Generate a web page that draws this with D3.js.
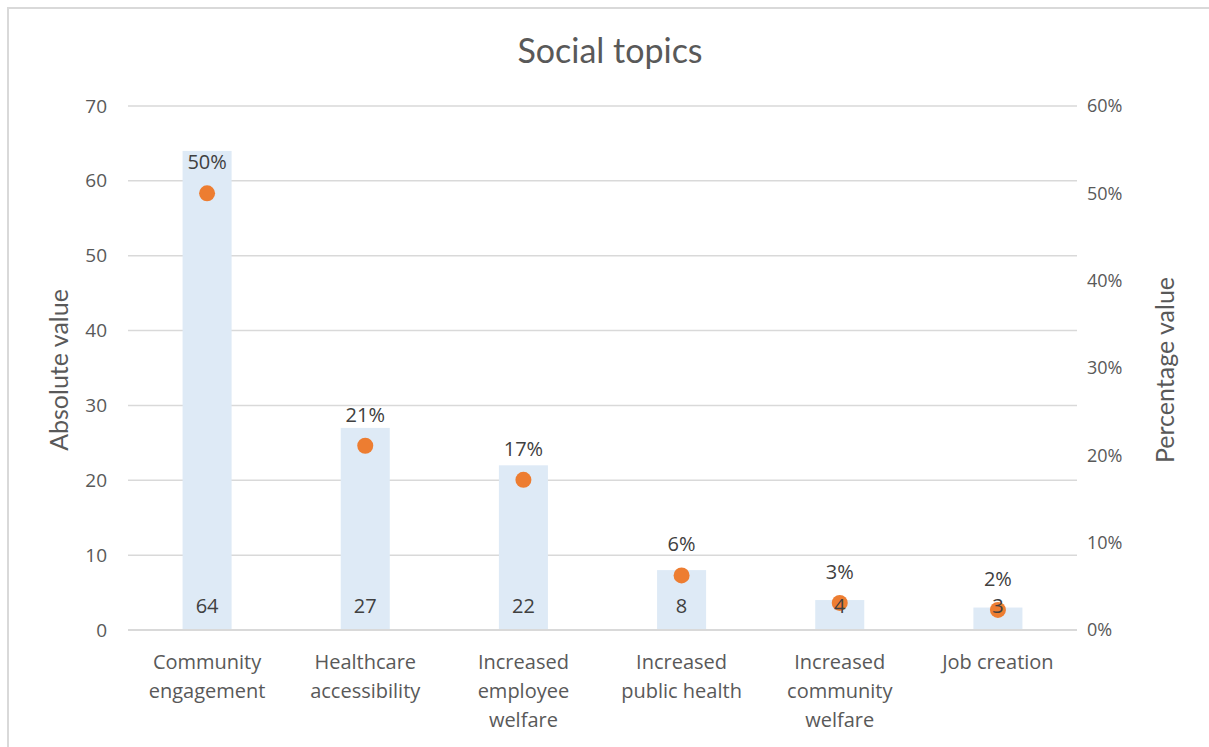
<!DOCTYPE html>
<html>
<head>
<meta charset="utf-8">
<script src="https://cdn.jsdelivr.net/npm/d3@7"></script>
<style>
  html, body { margin: 0; padding: 0; background: #fff; }
  svg { display: block; }
</style>
</head>
<body>
<svg id="chart" width="1209" height="747"></svg>
<script>
// Social topics: counts per topic (bars) and share of total (dots)
const categories = [
  ["Community", "engagement"],
  ["Healthcare", "accessibility"],
  ["Increased", "employee", "welfare"],
  ["Increased", "public health"],
  ["Increased", "community", "welfare"],
  ["Job creation"]
];
const absoluteValues = [64, 27, 22, 8, 4, 3];
const percentValues = [0.50, 0.211, 0.172, 0.0625, 0.031, 0.023];
const leftTicks = [0, 10, 20, 30, 40, 50, 60, 70];
const rightTicks = [0, 0.1, 0.2, 0.3, 0.4, 0.5, 0.6];

const svg = d3.select("#chart");
const W = 1209, H = 747;
const plot = { left: 128, right: 1077, top: 106, bottom: 630 };
const textColor = "#595959";
const labelColor = "#404040";
const gridColor = "#d9d9d9";
const font = "'Open Sans', 'DejaVu Sans', sans-serif";
const titleFont = "Lato, 'Open Sans', sans-serif";

// frame (top and left edges)
svg.append("path")
  .attr("d", `M8,${H} L8,8 L${W},8`)
  .attr("fill", "none")
  .attr("stroke", gridColor)
  .attr("stroke-width", 2);

const x = d3.scaleBand()
  .domain(d3.range(categories.length))
  .range([plot.left, plot.right])
  .paddingInner(0.69)
  .paddingOuter(0.345);

const yLeft = d3.scaleLinear().domain([0, 70]).range([plot.bottom, plot.top]);
const yRight = d3.scaleLinear().domain([0, 0.6]).range([plot.bottom, plot.top]);

// gridlines
svg.append("g")
  .selectAll("line")
  .data(leftTicks)
  .join("line")
  .attr("x1", plot.left).attr("x2", plot.right)
  .attr("y1", d => yLeft(d)).attr("y2", d => yLeft(d))
  .attr("stroke", gridColor)
  .attr("stroke-width", 1.5);

// left axis
const leftAxis = svg.append("g")
  .attr("transform", `translate(${plot.left},0)`)
  .call(d3.axisLeft(yLeft).tickValues(leftTicks).tickSize(0).tickPadding(21));
leftAxis.select(".domain").remove();
leftAxis.selectAll("text")
  .attr("fill", textColor).style("font-family", font).style("font-size", "19px");

// right axis
const rightAxis = svg.append("g")
  .attr("transform", `translate(${plot.right},0)`)
  .call(d3.axisRight(yRight).tickValues(rightTicks).tickFormat(d3.format(".0%")).tickSize(0).tickPadding(10));
rightAxis.select(".domain").remove();
rightAxis.selectAll("text")
  .attr("fill", textColor).style("font-family", font).style("font-size", "18px");

// bars
svg.append("g")
  .selectAll("rect")
  .data(absoluteValues)
  .join("rect")
  .attr("x", (d, i) => x(i))
  .attr("width", x.bandwidth())
  .attr("y", d => yLeft(d))
  .attr("height", d => yLeft(0) - yLeft(d))
  .attr("fill", "#deeaf6");

// bottom axis line
svg.append("line")
  .attr("x1", plot.left).attr("x2", plot.right)
  .attr("y1", plot.bottom).attr("y2", plot.bottom)
  .attr("stroke", gridColor).attr("stroke-width", 2);

// percentage dots
svg.append("g")
  .selectAll("circle")
  .data(percentValues)
  .join("circle")
  .attr("cx", (d, i) => x(i) + x.bandwidth() / 2)
  .attr("cy", d => yRight(d))
  .attr("r", 8)
  .attr("fill", "#ed7d31");

// bar value labels at the base (drawn over the dots)
svg.append("g")
  .selectAll("text")
  .data(absoluteValues)
  .join("text")
  .attr("x", (d, i) => x(i) + x.bandwidth() / 2)
  .attr("y", yLeft(0) - 17)
  .attr("text-anchor", "middle")
  .attr("fill", labelColor)
  .style("font-family", font).style("font-size", "20px")
  .text(d => d);

// percentage labels above dots
svg.append("g")
  .selectAll("text")
  .data(percentValues)
  .join("text")
  .attr("x", (d, i) => x(i) + x.bandwidth() / 2)
  .attr("y", d => yRight(d) - 24)
  .attr("text-anchor", "middle")
  .attr("fill", labelColor)
  .style("font-family", font).style("font-size", "20px")
  .text(d => d3.format(".0%")(d));

// category labels
const catG = svg.append("g");
categories.forEach((lines, i) => {
  const t = catG.append("text")
    .attr("x", x(i) + x.bandwidth() / 2)
    .attr("y", 669)
    .attr("text-anchor", "middle")
    .attr("fill", textColor)
    .style("font-family", font).style("font-size", "20px");
  lines.forEach((ln, j) => {
    t.append("tspan")
      .attr("x", x(i) + x.bandwidth() / 2)
      .attr("dy", j === 0 ? 0 : 29)
      .text(ln);
  });
});

// title
svg.append("text")
  .attr("x", 610).attr("y", 63)
  .attr("text-anchor", "middle")
  .attr("fill", textColor)
  .style("font-family", titleFont).style("font-size", "34px")
  .text("Social topics");

// axis titles
svg.append("text")
  .attr("transform", `translate(68,370) rotate(-90)`)
  .attr("text-anchor", "middle")
  .attr("fill", textColor)
  .style("font-family", titleFont).style("font-size", "25px")
  .text("Absolute value");

svg.append("text")
  .attr("transform", `translate(1174,370) rotate(-90)`)
  .attr("text-anchor", "middle")
  .attr("fill", textColor)
  .style("font-family", titleFont).style("font-size", "25px")
  .text("Percentage value");
</script>
</body>
</html>
